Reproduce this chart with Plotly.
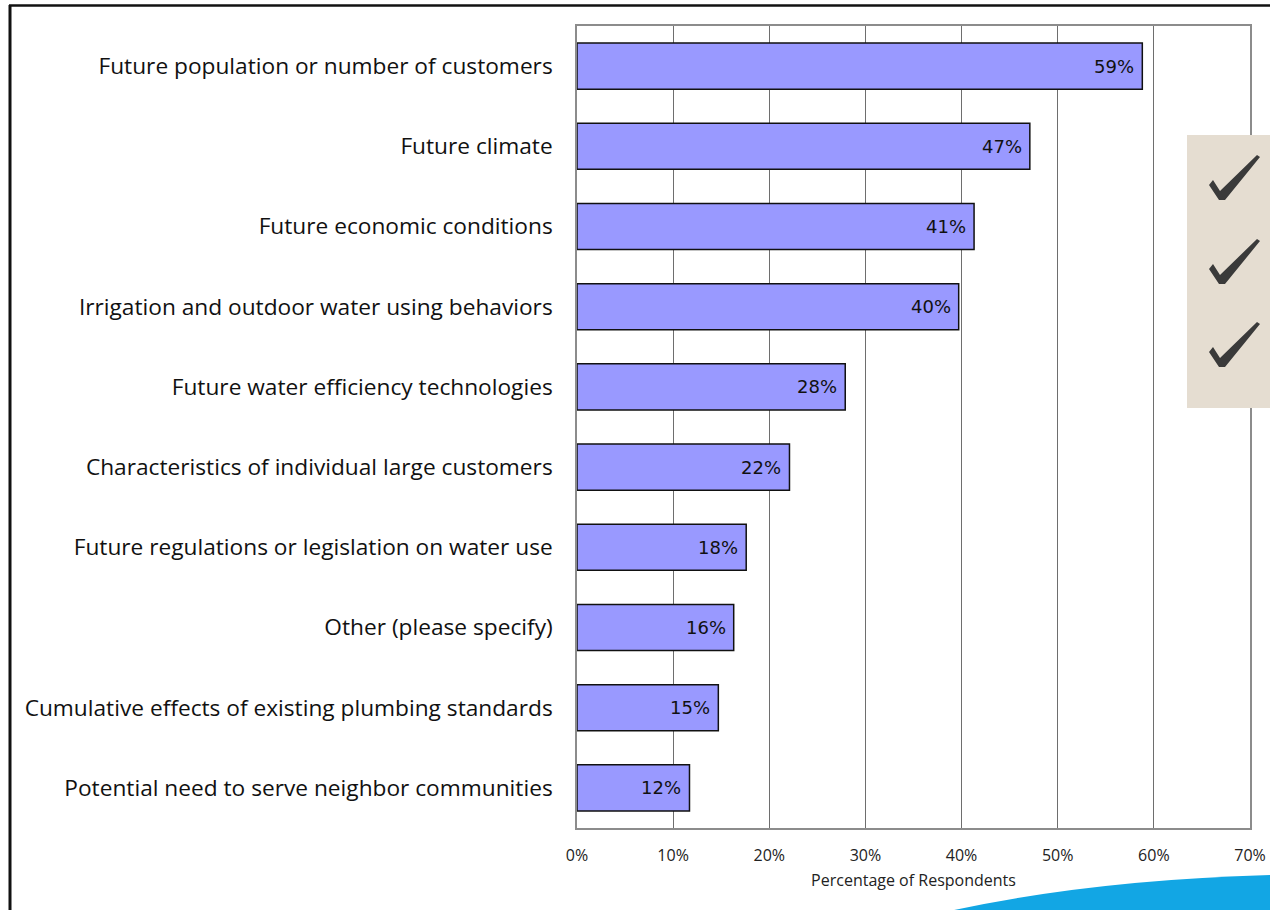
import plotly.graph_objects as go

# Survey factors, listed top to bottom
factors = [
    "Future population or number of customers",
    "Future climate",
    "Future economic conditions",
    "Irrigation and outdoor water using behaviors",
    "Future water efficiency technologies",
    "Characteristics of individual large customers",
    "Future regulations or legislation on water use",
    "Other (please specify)",
    "Cumulative effects of existing plumbing standards",
    "Potential need to serve neighbor communities",
]
# Share of respondents for each factor
shares = [0.588, 0.471, 0.413, 0.397, 0.279, 0.221, 0.176, 0.163, 0.147, 0.117]

x_ticks = [0, 0.1, 0.2, 0.3, 0.4, 0.5, 0.6, 0.7]
x_tick_labels = ["0%", "10%", "20%", "30%", "40%", "50%", "60%", "70%"]

W, H = 1270, 910
ML, MR, MT, MB = 577, 20, 26, 82
PW, PH = W - ML - MR, H - MT - MB


def px(x):
    return (x - ML) / PW


def py(y):
    return (H - MB - y) / PH


def check_path(bx, by):
    # calligraphic tick mark, anchored at its bottom point
    pts = [(-13, -15), (-9, -20), (-2, -9), (35, -45), (38, -43),
           (3, 0), (-3, 0)]
    d = " ".join(
        ("M" if i == 0 else "L") + f" {px(bx + dx)},{py(by + dy)}"
        for i, (dx, dy) in enumerate(pts)
    )
    return d + " Z"


fig = go.Figure()
fig.add_trace(go.Bar(
    x=shares,
    y=factors,
    orientation="h",
    width=0.575,
    marker=dict(color="#9999FF", line=dict(color="#111111", width=1.5)),
    hoverinfo="skip",
))

# value labels at the inner end of each bar
for f, s in zip(factors, shares):
    fig.add_annotation(
        x=s, y=f, xref="x", yref="y",
        text=f"{round(s * 100):d}%",
        showarrow=False, xanchor="right", xshift=-6,
        font=dict(family="DejaVu Sans", size=18, color="#111111"),
    )

shapes = [
    # frame lines on the page
    dict(type="line", xref="paper", yref="paper",
         x0=px(10), x1=px(10), y0=py(5), y1=py(912),
         line=dict(color="#111111", width=3)),
    dict(type="line", xref="paper", yref="paper",
         x0=px(9), x1=px(1272), y0=py(5.5), y1=py(5.5),
         line=dict(color="#111111", width=2.5)),
    # beige panel with check marks
    dict(type="rect", xref="paper", yref="paper", layer="above",
         x0=px(1187), x1=px(1272), y0=py(135), y1=py(408),
         fillcolor="#E5DDD1", line=dict(width=0)),
    # blue swoosh at the bottom right
    dict(type="path", xref="paper", yref="paper", layer="above",
         path=(f"M {px(945)},{py(912)} "
               f"Q {px(1090)},{py(880)} {px(1272)},{py(875)} "
               f"L {px(1272)},{py(912)} Z"),
         fillcolor="#12A6E4", line=dict(width=0)),
]
for by in [200, 284, 367]:
    shapes.append(dict(type="path", xref="paper", yref="paper",
                       layer="above", path=check_path(1222, by),
                       fillcolor="#3a3a3a", line=dict(width=0)))

fig.update_layout(
    width=W, height=H,
    margin=dict(l=ML, r=MR, t=MT, b=MB, autoexpand=False),
    paper_bgcolor="white",
    plot_bgcolor="white",
    showlegend=False,
    shapes=shapes,
    font=dict(family="Open Sans", color="#111111"),
)
fig.update_xaxes(
    range=[0, 0.7],
    tickvals=x_ticks,
    ticktext=x_tick_labels,
    tickfont=dict(family="Open Sans", size=16, color="#222222"),
    showgrid=True, gridcolor="#6e6e6e", gridwidth=1.3,
    showline=True, linecolor="#8c8c8c", linewidth=1.5, mirror=True,
    zeroline=False, automargin=False,
    ticks="", ticklabelstandoff=12,
    title=dict(text="Percentage of Respondents",
               font=dict(family="Open Sans", size=16, color="#222222"),
               standoff=10),
    fixedrange=True,
)
fig.update_yaxes(
    autorange="reversed",
    tickfont=dict(family="Open Sans", size=22.7, color="#111111"),
    showgrid=False, automargin=False,
    showline=True, linecolor="#8c8c8c", linewidth=1.5, mirror=True,
    ticks="", ticklabelstandoff=18,
    fixedrange=True,
)

fig.write_html("out.html")
